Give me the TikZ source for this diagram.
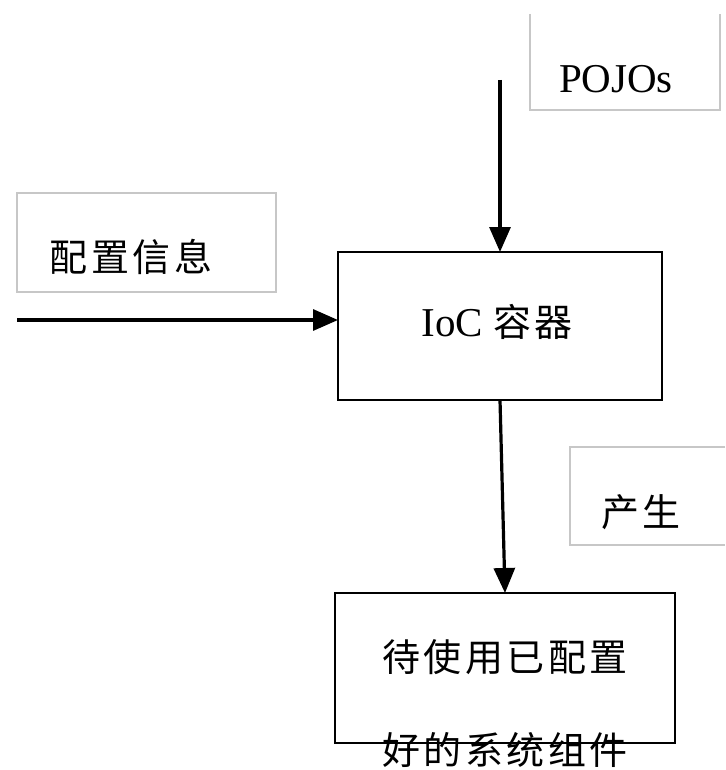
\documentclass[tikz,border=0pt]{standalone}
\usepackage{fontspec}
\setmainfont{Liberation Serif}
\newfontfamily\cjk[LetterSpace=9]{Noto Sans CJK SC}
\usetikzlibrary{arrows.meta}
\tikzset{
  graybox/.style={draw=black!22, line width=1.2pt},
  mainbox/.style={draw=black, line width=2.6pt},
  flow/.style={line width=3.2pt, -{Triangle[length=25pt,width=21pt]}},
  lbl/.style={inner sep=0pt, anchor=center},
}
\begin{document}
\begin{tikzpicture}[x=1pt,y=-1pt]
\useasboundingbox (0,0) rectangle (725,770);
% boxes
\draw[graybox] (530,14) -- (530,110) -- (720,110) -- (720,14);
\node[lbl, font=\fontsize{41}{46}\selectfont] (pojo) at (616,79) {POJOs};
\draw[graybox] (17,193) rectangle (276,292);
\node[lbl, font=\fontsize{38}{44}\selectfont\cjk] (cfg) at (131,257) {配置信息};
\draw[graybox] (725,447) -- (570,447) -- (570,545) -- (725,545);
\node[lbl, font=\fontsize{38}{44}\selectfont\cjk] (prod) at (641,512) {产生};
\draw[mainbox] (338,252) rectangle (662,400);
\coordinate (iocN) at (500,252);
\coordinate (iocW) at (338,320);
\coordinate (iocS) at (500,400);
\node[lbl] (ioc) at (497,322) {\fontsize{41}{46}\selectfont IoC {\fontsize{38}{44}\selectfont\cjk 容器}};
\draw[mainbox] (335,593) rectangle (675,743);
\coordinate (outN) at (505,593);
\node[lbl, font=\fontsize{38}{44}\selectfont\cjk] (out1) at (505,657) {待使用已配置};
\node[lbl, font=\fontsize{38}{44}\selectfont\cjk] (out2) at (505,750) {好的系统组件};
% connectors
\coordinate (pojoStart) at (500,80);
\coordinate (cfgStart) at (17,320);
\draw[flow] (pojoStart) -- (iocN);
\draw[flow] (cfgStart) -- (iocW);
\draw[flow] (iocS) -- (outN);
\end{tikzpicture}
\end{document}
